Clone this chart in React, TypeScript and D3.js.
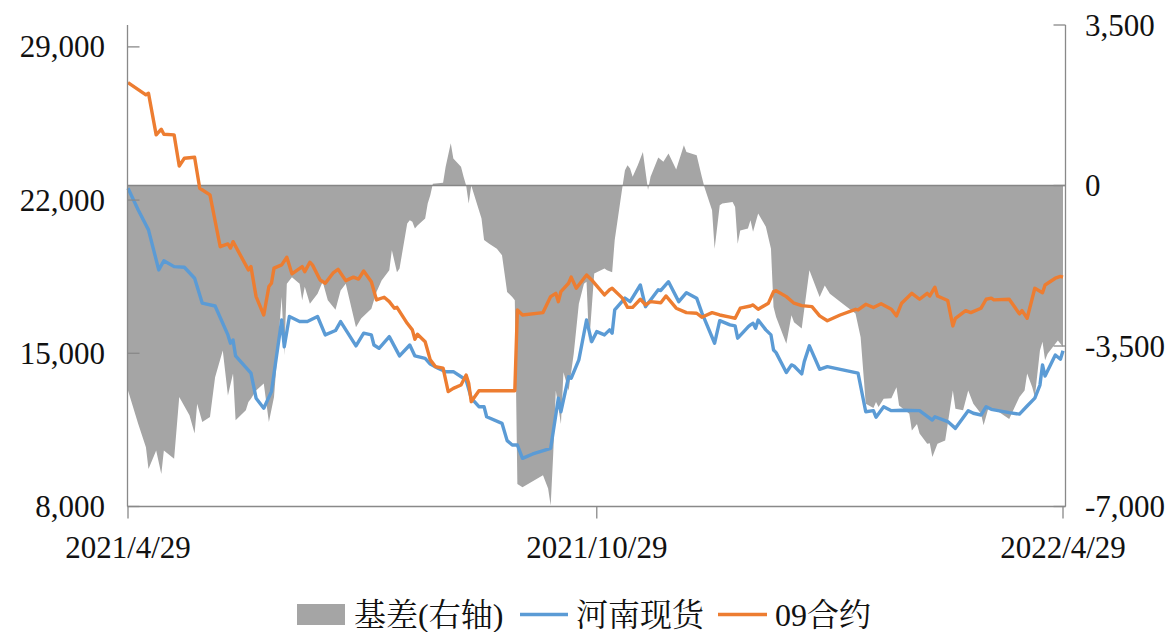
import React from 'react';
import * as d3 from 'd3';

// 河南现货 (left axis)
const spot: [string, number][] = [
  ["2021-04-29",22540],["2021-05-03",21550],["2021-05-07",20640],["2021-05-11",18810],["2021-05-13",19230],["2021-05-17",18960],["2021-05-21",18930],["2021-05-25",18430],["2021-05-28",17290],["2021-06-02",17160],["2021-06-07",15840],["2021-06-08",15460],["2021-06-09",15610],["2021-06-10",14880],["2021-06-16",14090],["2021-06-18",12950],["2021-06-21",12490],["2021-06-24",13250],["2021-06-28",16520],["2021-06-29",15300],["2021-07-01",16680],["2021-07-05",16450],["2021-07-08",16450],["2021-07-12",16680],["2021-07-15",15840],["2021-07-19",16040],["2021-07-21",16450],["2021-07-27",15340],["2021-07-30",15920],["2021-08-02",15840],["2021-08-03",15380],["2021-08-05",15230],["2021-08-09",15760],["2021-08-13",14880],["2021-08-17",15380],["2021-08-19",14880],["2021-08-23",14770],["2021-08-25",14510],["2021-08-28",14320],["2021-08-31",14160],["2021-09-03",14160],["2021-09-08",13780],["2021-09-10",12950],["2021-09-13",12560],["2021-09-15",12560],["2021-09-16",12100],["2021-09-22",11800],["2021-09-24",11010],["2021-09-26",10810],["2021-09-28",10810],["2021-09-30",10200],["2021-10-04",10400],["2021-10-11",10660],["2021-10-14",12950],["2021-10-15",12330],["2021-10-18",13930],["2021-10-19",13860],["2021-10-22",14700],["2021-10-25",16520],["2021-10-27",15530],["2021-10-29",15990],["2021-11-01",15840],["2021-11-03",16070],["2021-11-04",15920],["2021-11-05",16980],["2021-11-09",17520],["2021-11-11",17360],["2021-11-15",18120],["2021-11-17",17130],["2021-11-22",17900],["2021-11-23",17870],["2021-11-26",18270],["2021-11-30",17360],["2021-12-03",17770],["2021-12-07",17520],["2021-12-09",16860],["2021-12-14",15460],["2021-12-16",16490],["2021-12-20",16300],["2021-12-22",16250],["2021-12-23",15690],["2021-12-27",16200],["2021-12-28",16300],["2021-12-29",16370],["2021-12-30",16150],["2021-12-31",16520],["2022-01-03",16070],["2022-01-05",15840],["2022-01-06",15150],["2022-01-07",15030],["2022-01-11",14120],["2022-01-13",14470],["2022-01-14",14420],["2022-01-17",14060],["2022-01-18",14620],["2022-01-20",15340],["2022-01-24",14270],["2022-01-27",14390],["2022-02-08",14090],["2022-02-11",12330],["2022-02-14",12380],["2022-02-15",12080],["2022-02-18",12560],["2022-02-21",12380],["2022-02-25",12400],["2022-03-04",12380],["2022-03-09",11950],["2022-03-10",12100],["2022-03-15",11880],["2022-03-18",11570],["2022-03-23",12380],["2022-03-25",12260],["2022-03-28",12180],["2022-03-30",12560],["2022-04-01",12440],["2022-04-08",12290],["2022-04-12",12220],["2022-04-15",12590],["2022-04-18",12950],["2022-04-20",13550],["2022-04-21",14470],["2022-04-22",13960],["2022-04-26",14920],["2022-04-28",14730],["2022-04-29",15120]
];

// 09合约 (left axis)
const futures: [string, number][] = [
  ["2021-04-29",27370],["2021-05-06",26810],["2021-05-07",26880],["2021-05-10",24980],["2021-05-12",25240],["2021-05-13",25010],["2021-05-17",24980],["2021-05-19",23560],["2021-05-21",23910],["2021-05-25",23960],["2021-05-27",22540],["2021-05-31",22240],["2021-06-04",19870],["2021-06-07",20000],["2021-06-08",19810],["2021-06-09",20100],["2021-06-15",18810],["2021-06-16",18960],["2021-06-18",17590],["2021-06-21",16750],["2021-06-23",18050],["2021-06-24",18200],["2021-06-25",18890],["2021-06-28",19040],["2021-06-30",19390],["2021-07-02",18630],["2021-07-06",18960],["2021-07-07",18730],["2021-07-09",19160],["2021-07-10",19040],["2021-07-13",18350],["2021-07-15",18200],["2021-07-18",18660],["2021-07-20",18840],["2021-07-23",18320],["2021-07-26",18480],["2021-07-28",18390],["2021-07-30",18760],["2021-08-02",18270],["2021-08-04",17440],["2021-08-07",17560],["2021-08-09",17360],["2021-08-11",17060],["2021-08-12",17100],["2021-08-16",16370],["2021-08-18",16070],["2021-08-19",15640],["2021-08-20",15870],["2021-08-23",15530],["2021-08-25",14700],["2021-08-27",14390],["2021-08-30",14320],["2021-09-01",13250],["2021-09-03",13400],["2021-09-06",13550],["2021-09-08",14010],["2021-09-09",13630],["2021-09-10",12790],["2021-09-13",13290],["2021-09-27",13290],["2021-09-28",16980],["2021-09-30",16750],["2021-10-08",16860],["2021-10-11",17590],["2021-10-13",17740],["2021-10-14",17360],["2021-10-15",17820],["2021-10-18",18200],["2021-10-19",18480],["2021-10-21",17970],["2021-10-25",18580],["2021-10-27",18350],["2021-10-29",18080],["2021-11-01",17670],["2021-11-03",17900],["2021-11-04",17970],["2021-11-08",17520],["2021-11-10",17100],["2021-11-12",17100],["2021-11-15",17470],["2021-11-17",17210],["2021-11-19",17360],["2021-11-23",17310],["2021-11-25",17620],["2021-11-29",17060],["2021-12-03",16860],["2021-12-07",16830],["2021-12-09",16650],["2021-12-13",16860],["2021-12-16",16750],["2021-12-20",16650],["2021-12-22",16600],["2021-12-24",17060],["2021-12-28",17160],["2021-12-29",17210],["2021-12-31",17010],["2022-01-04",17290],["2022-01-06",17820],["2022-01-07",17860],["2022-01-11",17590],["2022-01-14",17290],["2022-01-17",17180],["2022-01-21",17130],["2022-01-24",16710],["2022-01-27",16490],["2022-02-01",16750],["2022-02-07",17010],["2022-02-08",16980],["2022-02-11",17240],["2022-02-14",17090],["2022-02-17",17260],["2022-02-21",17010],["2022-02-23",16710],["2022-02-25",17290],["2022-03-01",17740],["2022-03-04",17470],["2022-03-07",17740],["2022-03-08",17620],["2022-03-10",18020],["2022-03-11",17620],["2022-03-15",17410],["2022-03-17",16250],["2022-03-18",16600],["2022-03-22",16950],["2022-03-24",16860],["2022-03-28",17060],["2022-03-30",17470],["2022-04-01",17520],["2022-04-02",17440],["2022-04-08",17470],["2022-04-12",16800],["2022-04-13",16950],["2022-04-15",16600],["2022-04-18",17970],["2022-04-21",17770],["2022-04-22",18120],["2022-04-26",18430],["2022-04-28",18510],["2022-04-29",18480]
];

// 基差 (right axis)
const basis: [string, number][] = [
  ["2021-04-29",-4470],["2021-05-03",-5200],["2021-05-06",-5710],["2021-05-07",-6180],["2021-05-10",-5780],["2021-05-12",-6290],["2021-05-13",-5780],["2021-05-17",-5960],["2021-05-19",-4610],["2021-05-23",-5010],["2021-05-25",-5410],["2021-05-26",-4760],["2021-05-28",-5160],["2021-05-31",-5050],["2021-06-02",-4180],["2021-06-05",-3600],["2021-06-07",-4580],["2021-06-09",-4100],["2021-06-10",-5120],["2021-06-14",-4900],["2021-06-15",-4720],["2021-06-16",-4650],["2021-06-18",-4470],["2021-06-21",-4320],["2021-06-23",-5160],["2021-06-25",-4610],["2021-06-28",-2430],["2021-06-29",-3700],["2021-06-30",-2140],["2021-07-02",-2000],["2021-07-05",-2140],["2021-07-06",-2500],["2021-07-07",-2210],["2021-07-09",-2580],["2021-07-12",-2360],["2021-07-14",-2100],["2021-07-16",-2500],["2021-07-19",-2710],["2021-07-21",-2290],["2021-07-23",-2140],["2021-07-27",-3090],["2021-07-29",-2900],["2021-08-02",-2690],["2021-08-04",-2320],["2021-08-06",-2070],["2021-08-09",-1850],["2021-08-10",-1410],["2021-08-12",-1890],["2021-08-13",-1810],["2021-08-16",-830],["2021-08-17",-760],["2021-08-18",-790],["2021-08-19",-940],["2021-08-20",-870],["2021-08-23",-720],["2021-08-24",-390],["2021-08-25",-210],["2021-08-26",40],["2021-08-30",60],["2021-08-31",410],["2021-09-02",920],["2021-09-03",590],["2021-09-06",410],["2021-09-07",190],["2021-09-08",0],["2021-09-09",-390],["2021-09-10",0],["2021-09-13",-540],["2021-09-14",-720],["2021-09-15",-1190],["2021-09-17",-1270],["2021-09-20",-1380],["2021-09-22",-1520],["2021-09-23",-1920],["2021-09-24",-2320],["2021-09-26",-2430],["2021-09-27",-2500],["2021-09-28",-6510],["2021-09-30",-6580],["2021-10-08",-6320],["2021-10-10",-6610],["2021-10-11",-6980],["2021-10-12",-5850],["2021-10-13",-4470],["2021-10-15",-5200],["2021-10-16",-4070],["2021-10-18",-4470],["2021-10-20",-3670],["2021-10-22",-2580],["2021-10-24",-2140],["2021-10-25",-2100],["2021-10-26",-3450],["2021-10-28",-1920],["2021-11-01",-1810],["2021-11-02",-1850],["2021-11-04",-1890],["2021-11-05",-1190],["2021-11-08",-30],["2021-11-09",330],["2021-11-10",440],["2021-11-11",370],["2021-11-12",190],["2021-11-14",440],["2021-11-16",730],["2021-11-18",-100],["2021-11-19",190],["2021-11-22",610],["2021-11-24",520],["2021-11-26",700],["2021-11-29",350],["2021-12-02",880],["2021-12-03",730],["2021-12-07",660],["2021-12-09",190],["2021-12-10",-30],["2021-12-13",-540],["2021-12-14",-1380],["2021-12-16",-430],["2021-12-17",-390],["2021-12-21",-360],["2021-12-22",-470],["2021-12-23",-1270],["2021-12-24",-980],["2021-12-27",-940],["2021-12-28",-760],["2021-12-29",-1010],["2021-12-31",-610],["2022-01-03",-900],["2022-01-05",-1380],["2022-01-06",-2650],["2022-01-07",-2870],["2022-01-11",-3450],["2022-01-13",-2830],["2022-01-14",-2980],["2022-01-17",-3120],["2022-01-20",-1850],["2022-01-24",-2430],["2022-01-26",-2180],["2022-01-28",-2360],["2022-02-02",-2580],["2022-02-07",-2790],["2022-02-09",-3310],["2022-02-11",-4760],["2022-02-14",-4850],["2022-02-15",-4720],["2022-02-16",-4830],["2022-02-18",-4650],["2022-02-21",-4640],["2022-02-23",-4400],["2022-02-24",-4800],["2022-02-28",-4980],["2022-03-01",-5340],["2022-03-03",-5200],["2022-03-04",-5410],["2022-03-07",-5630],["2022-03-08",-5620],["2022-03-09",-5920],["2022-03-11",-5630],["2022-03-14",-5560],["2022-03-15",-5200],["2022-03-17",-4470],["2022-03-18",-4870],["2022-03-21",-4900],["2022-03-23",-4470],["2022-03-25",-4760],["2022-03-28",-4980],["2022-03-29",-5230],["2022-03-31",-4830],["2022-04-04",-4940],["2022-04-08",-5090],["2022-04-12",-4610],["2022-04-14",-4470],["2022-04-15",-4100],["2022-04-17",-4400],["2022-04-18",-4610],["2022-04-20",-3600],["2022-04-21",-3410],["2022-04-22",-3810],["2022-04-23",-3670],["2022-04-26",-3450],["2022-04-27",-3380],["2022-04-29",-3520]
];

const leftTicks = [8000, 15000, 22000, 29000];
const rightTicks = [-7000, -3500, 0, 3500];
const xTickLabels = ["2021/4/29", "2021/10/29", "2022/4/29"];
const xTickDates = ["2021-04-29", "2021-10-29", "2022-04-29"];
const legendLabels = ["基差(右轴)", "河南现货", "09合约"];

const parse = d3.timeParse('%Y-%m-%d');
const fmt = (v: number) => d3.format(',')(v).replace('\u2212', '-');

export default function App() {
  const W = 1176, H = 632;
  const left = 127.5, right = 1065.5, top = 25, bottom = 506.5;
  const x = d3.scaleTime()
    .domain([parse('2021-04-29') as Date, parse('2022-04-29') as Date])
    .range([128, 1063]);
  const yL = d3.scaleLinear().domain([8000, 30000]).range([bottom, top]);
  const yR = d3.scaleLinear().domain([-7000, 3500]).range([bottom, top]);

  const area = d3.area<[string, number]>()
    .x(d => x(parse(d[0]) as Date))
    .y0(yR(0))
    .y1(d => yR(d[1]));
  const lineL = d3.line<[string, number]>()
    .x(d => x(parse(d[0]) as Date))
    .y(d => yL(d[1]));

  const axisColor = '#898989';
  const font = "'Times New Roman','Liberation Serif','Noto Serif CJK SC','Noto Sans CJK SC',serif";
  const fs = 31;

  return (
    <svg width={W} height={H} style={{ position: 'absolute', left: 0, top: 0, background: '#fff' }}
      fontFamily={font}>
      <rect x={0} y={0} width={W} height={H} fill="#fff" />
      <path d={area(basis) || ''} fill="#a5a5a5" stroke="none" />
      <line x1={left} x2={right} y1={yR(0)} y2={yR(0)} stroke="#868686" strokeWidth={1.5} />
      <path d={lineL(spot) || ''} fill="none" stroke="#5b9bd5" strokeWidth={3.4} strokeLinejoin="round" />
      <path d={lineL(futures) || ''} fill="none" stroke="#ed7d31" strokeWidth={3.4} strokeLinejoin="round" />

      {/* axes */}
      <line x1={left} x2={left} y1={top} y2={bottom} stroke={axisColor} strokeWidth={1.3} />
      <line x1={right} x2={right} y1={top} y2={bottom} stroke={axisColor} strokeWidth={1.3} />
      <line x1={left} x2={right} y1={bottom} y2={bottom} stroke={axisColor} strokeWidth={1.3} />
      {leftTicks.map(t => (
        <g key={'l' + t}>
          <line x1={left} x2={left + 12} y1={yL(t)} y2={yL(t)} stroke={axisColor} strokeWidth={1.3} />
          <text x={105} y={yL(t) + 10.5} textAnchor="end" fontSize={fs} fill="#111">{fmt(t)}</text>
        </g>
      ))}
      {rightTicks.map(t => (
        <g key={'r' + t}>
          <line x1={right - 12} x2={right} y1={yR(t)} y2={yR(t)} stroke={axisColor} strokeWidth={1.3} />
          <text x={1085} y={yR(t) + 10.5} textAnchor="start" fontSize={fs} fill="#111">{fmt(t)}</text>
        </g>
      ))}
      {xTickDates.map((d, i) => (
        <g key={'x' + d}>
          <line x1={x(parse(d) as Date)} x2={x(parse(d) as Date)} y1={bottom} y2={bottom + 12} stroke={axisColor} strokeWidth={1.3} />
          <text x={x(parse(d) as Date)} y={558} textAnchor="middle" fontSize={fs} fill="#111">{xTickLabels[i]}</text>
        </g>
      ))}

      {/* legend */}
      <rect x={297} y={604} width={48} height={21} fill="#a5a5a5" />
      <text x={354} y={626} fontSize={32} fill="#111">{legendLabels[0]}</text>
      <line x1={520} x2={568} y1={614.5} y2={614.5} stroke="#5b9bd5" strokeWidth={3.4} />
      <text x={576} y={626} fontSize={32} fill="#111">{legendLabels[1]}</text>
      <line x1={718} x2={767} y1={614.5} y2={614.5} stroke="#ed7d31" strokeWidth={3.4} />
      <text x={775} y={626} fontSize={32} fill="#111">{legendLabels[2]}</text>
    </svg>
  );
}
